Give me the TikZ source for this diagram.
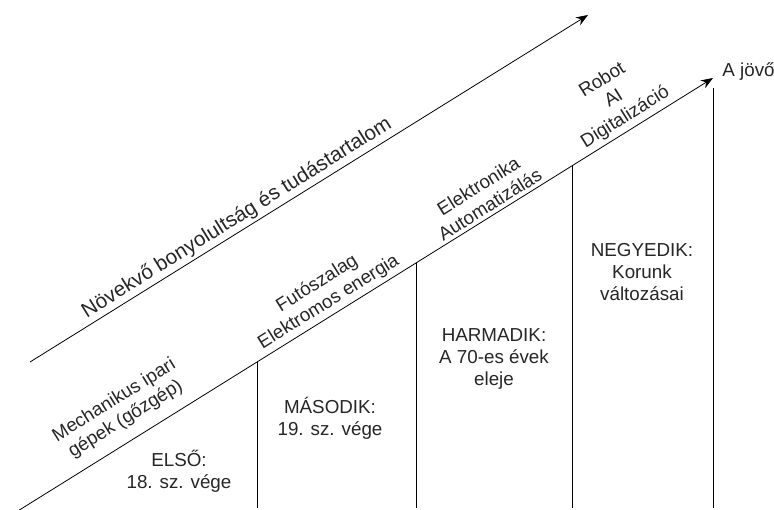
\documentclass[tikz,border=0pt]{standalone}
\usepackage{fontspec}
\setmainfont{Liberation Sans}
\usetikzlibrary{arrows.meta}

\begin{document}
\begin{tikzpicture}[
  x=0.75pt, y=-0.75pt, line width=0.6pt,
  >={Stealth[length=9pt,width=6.8pt]},
  lbl/.style={align=center, inner sep=0pt, text=black!85,
              font=\fontsize{14.1}{16.3}\selectfont},
  slant/.style={lbl, rotate=32}
]
\useasboundingbox (0,0) rectangle (774,510);
\coordinate (base) at (12,514.6);
\coordinate (tip) at (713,78);
\coordinate (bottom) at (0,508);
\coordinate (t1) at (257,362);
\coordinate (t2) at (416,263);
\coordinate (t3) at (572,165.8);
\coordinate (t4) at (713,88);
\coordinate (u0) at (30,362);
\coordinate (u1) at (588,15);

\draw[->] (base) -- (tip);
\draw[->] (u0) -- (u1);
\foreach \t in {t1,t2,t3,t4}
  \draw (\t) -- (\t |- bottom);

\node[slant, font=\fontsize{15.5}{18}\selectfont] (trend) at (237,218)
  {Növekvő bonyolultság és tudástartalom};
\node[slant] (mech) at (120,410) {Mechanikus ipari\\gépek (gőzgép)};
\node[slant] (belt) at (323,293) {Futószalag\\Elektromos energia};
\node[slant] (elec) at (484,195) {Elektronika\\Automatizálás};
\node[slant] (robot) at (614,99) {Robot\\AI\\Digitalizáció};

\node[lbl] (first) at (179,471) {ELSŐ:\\18. sz. vége};
\node[lbl] (second) at (330,418) {MÁSODIK:\\19. sz. vége};
\node[lbl] (third) at (494,359) {HARMADIK:\\A 70-es évek\\eleje};
\node[lbl] (fourth) at (642,272) {NEGYEDIK:\\Korunk\\változásai};
\node[lbl, anchor=west] (future) at (722,72) {A jövő};
\end{tikzpicture}
\end{document}
